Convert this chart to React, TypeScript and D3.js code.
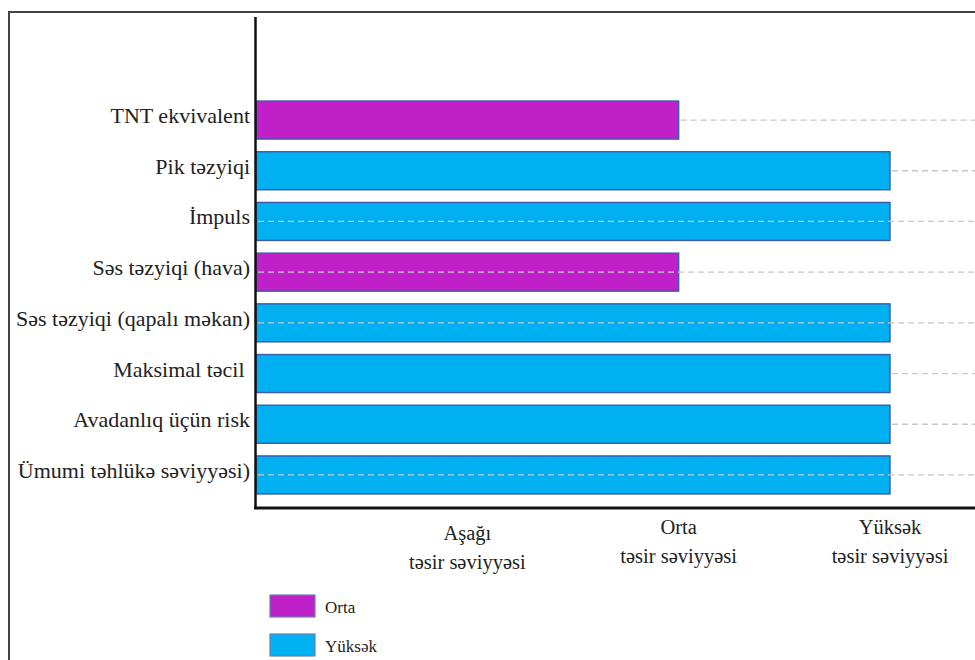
import React from "react";
import * as d3 from "d3";

const categories = [
  "TNT ekvivalent",
  "Pik təzyiqi",
  "İmpuls",
  "Səs təzyiqi (hava)",
  "Səs təzyiqi (qapalı məkan)",
  "Maksimal təcil ",
  "Avadanlıq üçün risk",
  "Ümumi təhlükə səviyyəsi)",
];
// 1 = Aşağı, 2 = Orta, 3 = Yüksək
const levels = [2, 3, 3, 2, 3, 3, 3, 3];
const gridOnTop = [false, false, true, true, true, false, false, true];
const levelTicks = [1, 2, 3];
const tickLine1 = ["Aşağı", "Orta", "Yüksək"];
const tickLine2 = ["təsir səviyyəsi", "təsir səviyyəsi", "təsir səviyyəsi"];
const legendLabels = ["Orta", "Yüksək"];
const legendLevels = [2, 3];

const W = 975;
const H = 660;
const serif = "Liberation Serif, Times New Roman, DejaVu Serif, serif";

export default function App() {
  const x = d3.scaleLinear().domain([0, 3]).range([256, 890]);
  const y = d3
    .scaleBand<string>()
    .domain(categories)
    .range([94.7, 500.3])
    .paddingInner(0.25)
    .paddingOuter(0.125);
  const color = d3
    .scaleOrdinal<number, string>()
    .domain([2, 3])
    .range(["#C020C8", "#00B0F0"]);

  const gridLine = (c: string, i: number) => {
    const cy = (y(c) as number) + y.bandwidth() / 2;
    const x0 = gridOnTop[i] ? x(0) + 2 : x(levels[i]) + 2;
    return (
      <line
        key={"g" + i}
        x1={x0}
        x2={W + 10}
        y1={cy}
        y2={cy}
        stroke="#c8c8c8"
        strokeWidth={1.3}
        strokeDasharray="6,4"
      />
    );
  };

  return (
    <svg
      width={W}
      height={H}
      style={{ position: "absolute", left: 0, top: 0, background: "#fff", fontFamily: serif }}
    >
      <rect x={0} y={0} width={W} height={H} fill="#fff" />
      <rect x={9} y={12} width={1100} height={800} fill="none" stroke="#444" strokeWidth={2} />

      {/* grid behind bars */}
      {categories.map((c, i) => (gridOnTop[i] ? null : gridLine(c, i)))}

      {/* bars */}
      {categories.map((c, i) => (
        <rect
          key={"b" + i}
          x={x(0)}
          y={y(c) as number}
          width={x(levels[i]) - x(0)}
          height={y.bandwidth()}
          fill={color(levels[i])}
          stroke="#3A5BA8"
          strokeWidth={1.4}
        />
      ))}

      {/* grid over bars */}
      {categories.map((c, i) => (gridOnTop[i] ? gridLine(c, i) : null))}

      {/* axes */}
      <line x1={255.5} x2={255.5} y1={17} y2={509} stroke="#111" strokeWidth={2.5} />
      <line x1={254} x2={W + 10} y1={508} y2={508} stroke="#111" strokeWidth={3} />

      {/* category labels */}
      {categories.map((c, i) => (
        <text
          key={"l" + i}
          x={250}
          y={(y(c) as number) + y.bandwidth() / 2 + 3}
          textAnchor="end"
          fontSize={22}
          fontFamily={serif}
          fill="#222"
          style={{ whiteSpace: "pre" }}
        >
          {c}
        </text>
      ))}

      {/* x tick labels */}
      {levelTicks.map((v, i) => (
        <text
          key={"t" + i}
          x={x(v)}
          y={i === 0 ? 540 : 534}
          textAnchor="middle"
          fontSize={20.5}
          fontFamily={serif}
          fill="#222"
        >
          <tspan x={x(v)}>{tickLine1[i]}</tspan>
          <tspan x={x(v)} dy={29}>
            {tickLine2[i]}
          </tspan>
        </text>
      ))}

      {/* legend */}
      {legendLabels.map((l, i) => (
        <g key={"lg" + i} transform={`translate(270, ${595 + i * 39})`}>
          <rect
            width={45}
            height={22}
            fill={color(legendLevels[i])}
            stroke="#6A7FB8"
            strokeWidth={1.2}
          />
          <text x={55} y={18} fontSize={17} fontFamily={serif} fill="#222">
            {l}
          </text>
        </g>
      ))}
    </svg>
  );
}
